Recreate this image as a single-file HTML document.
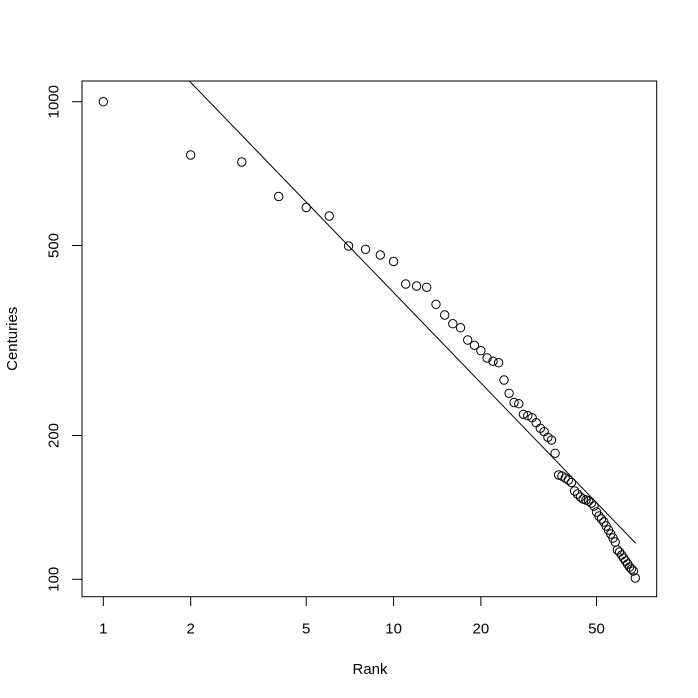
<!DOCTYPE html>
<html>
<head>
<meta charset="utf-8">
<style>
html,body{margin:0;padding:0;background:#fff;}
svg{display:block;}
text{font-family:"Liberation Sans",Arial,sans-serif;font-size:15px;fill:#000;}
</style>
</head>
<body>
<svg width="698" height="698" viewBox="0 0 698 698" xmlns="http://www.w3.org/2000/svg">
<rect width="698" height="698" fill="#fff"/>
<defs>
<clipPath id="pc"><rect x="82" y="81" width="574.7" height="515.7"/></clipPath>
</defs>
<rect x="82" y="81" width="574.7" height="515.7" fill="none" stroke="#000" stroke-width="1"/>
<g stroke="#000" stroke-width="1">
<line x1="103.3" y1="596.7" x2="103.3" y2="606"/>
<line x1="190.7" y1="596.7" x2="190.7" y2="606"/>
<line x1="306.2" y1="596.7" x2="306.2" y2="606"/>
<line x1="393.6" y1="596.7" x2="393.6" y2="606"/>
<line x1="480.9" y1="596.7" x2="480.9" y2="606"/>
<line x1="596.5" y1="596.7" x2="596.5" y2="606"/>
<line x1="72" y1="579.3" x2="82" y2="579.3"/>
<line x1="72" y1="435.5" x2="82" y2="435.5"/>
<line x1="72" y1="245.5" x2="82" y2="245.5"/>
<line x1="72" y1="101.7" x2="82" y2="101.7"/>
</g>
<g text-anchor="middle">
<text x="103.3" y="633.5">1</text>
<text x="190.7" y="633.5">2</text>
<text x="306.2" y="633.5">5</text>
<text x="393.6" y="633.5">10</text>
<text x="480.9" y="633.5">20</text>
<text x="596.5" y="633.5">50</text>
<text x="370" y="674">Rank</text>
<text transform="translate(58.5,579.3) rotate(-90)">100</text>
<text transform="translate(58.5,435.5) rotate(-90)">200</text>
<text transform="translate(58.5,245.5) rotate(-90)">500</text>
<text transform="translate(58.5,101.7) rotate(-90)">1000</text>
<text transform="translate(17,338.8) rotate(-90)">Centuries</text>
</g>
<line x1="103.3" y1="-8.1" x2="635.7" y2="543.3" stroke="#000" stroke-width="1" clip-path="url(#pc)"/>
<g fill="none" stroke="#000" stroke-width="1">
<circle cx="103.3" cy="101.7" r="4.2"/>
<circle cx="190.7" cy="155" r="4.2"/>
<circle cx="241.8" cy="162" r="4.2"/>
<circle cx="278.7" cy="196.5" r="4.2"/>
<circle cx="306.2" cy="207.5" r="4.2"/>
<circle cx="329.2" cy="216" r="4.2"/>
<circle cx="348.6" cy="246" r="4.2"/>
<circle cx="365.5" cy="249.3" r="4.2"/>
<circle cx="380.3" cy="255" r="4.2"/>
<circle cx="393.6" cy="261.5" r="4.2"/>
<circle cx="405.7" cy="284" r="4.2"/>
<circle cx="416.6" cy="286" r="4.2"/>
<circle cx="426.7" cy="287.3" r="4.2"/>
<circle cx="436" cy="304.3" r="4.2"/>
<circle cx="444.7" cy="315" r="4.2"/>
<circle cx="452.8" cy="323.7" r="4.2"/>
<circle cx="460.5" cy="327.7" r="4.2"/>
<circle cx="467.7" cy="340" r="4.2"/>
<circle cx="474.5" cy="345.3" r="4.2"/>
<circle cx="480.9" cy="350.7" r="4.2"/>
<circle cx="487.1" cy="358" r="4.2"/>
<circle cx="493" cy="361.3" r="4.2"/>
<circle cx="498.6" cy="362.7" r="4.2"/>
<circle cx="504" cy="380" r="4.2"/>
<circle cx="509.1" cy="393.3" r="4.2"/>
<circle cx="514.1" cy="402.5" r="4.2"/>
<circle cx="518.8" cy="403.7" r="4.2"/>
<circle cx="523.4" cy="414.3" r="4.2"/>
<circle cx="527.8" cy="415.7" r="4.2"/>
<circle cx="532.1" cy="417.7" r="4.2"/>
<circle cx="536.2" cy="422.7" r="4.2"/>
<circle cx="540.3" cy="428.3" r="4.2"/>
<circle cx="544.1" cy="431.7" r="4.2"/>
<circle cx="547.9" cy="437.3" r="4.2"/>
<circle cx="551.5" cy="440" r="4.2"/>
<circle cx="555.1" cy="453.3" r="4.2"/>
<circle cx="558.6" cy="475" r="4.2"/>
<circle cx="561.9" cy="476" r="4.2"/>
<circle cx="565.2" cy="478" r="4.2"/>
<circle cx="568.4" cy="480" r="4.2"/>
<circle cx="571.5" cy="482.5" r="4.2"/>
<circle cx="574.6" cy="491" r="4.2"/>
<circle cx="577.5" cy="494" r="4.2"/>
<circle cx="580.4" cy="497" r="4.2"/>
<circle cx="583.2" cy="499" r="4.2"/>
<circle cx="586" cy="500" r="4.2"/>
<circle cx="588.7" cy="501" r="4.2"/>
<circle cx="591.4" cy="503" r="4.2"/>
<circle cx="594" cy="506" r="4.2"/>
<circle cx="596.5" cy="512" r="4.2"/>
<circle cx="599" cy="516" r="4.2"/>
<circle cx="601.4" cy="519" r="4.2"/>
<circle cx="603.9" cy="522" r="4.2"/>
<circle cx="606.2" cy="526" r="4.2"/>
<circle cx="608.5" cy="530" r="4.2"/>
<circle cx="610.8" cy="534" r="4.2"/>
<circle cx="613" cy="538" r="4.2"/>
<circle cx="615.2" cy="542" r="4.2"/>
<circle cx="617.4" cy="550" r="4.2"/>
<circle cx="619.5" cy="552" r="4.2"/>
<circle cx="621.6" cy="555" r="4.2"/>
<circle cx="623.6" cy="558" r="4.2"/>
<circle cx="625.6" cy="561" r="4.2"/>
<circle cx="627.6" cy="564" r="4.2"/>
<circle cx="629.6" cy="567" r="4.2"/>
<circle cx="631.5" cy="569" r="4.2"/>
<circle cx="633.4" cy="571" r="4.2"/>
<circle cx="635.3" cy="578" r="4.2"/>
</g>
</svg>
</body>
</html>
